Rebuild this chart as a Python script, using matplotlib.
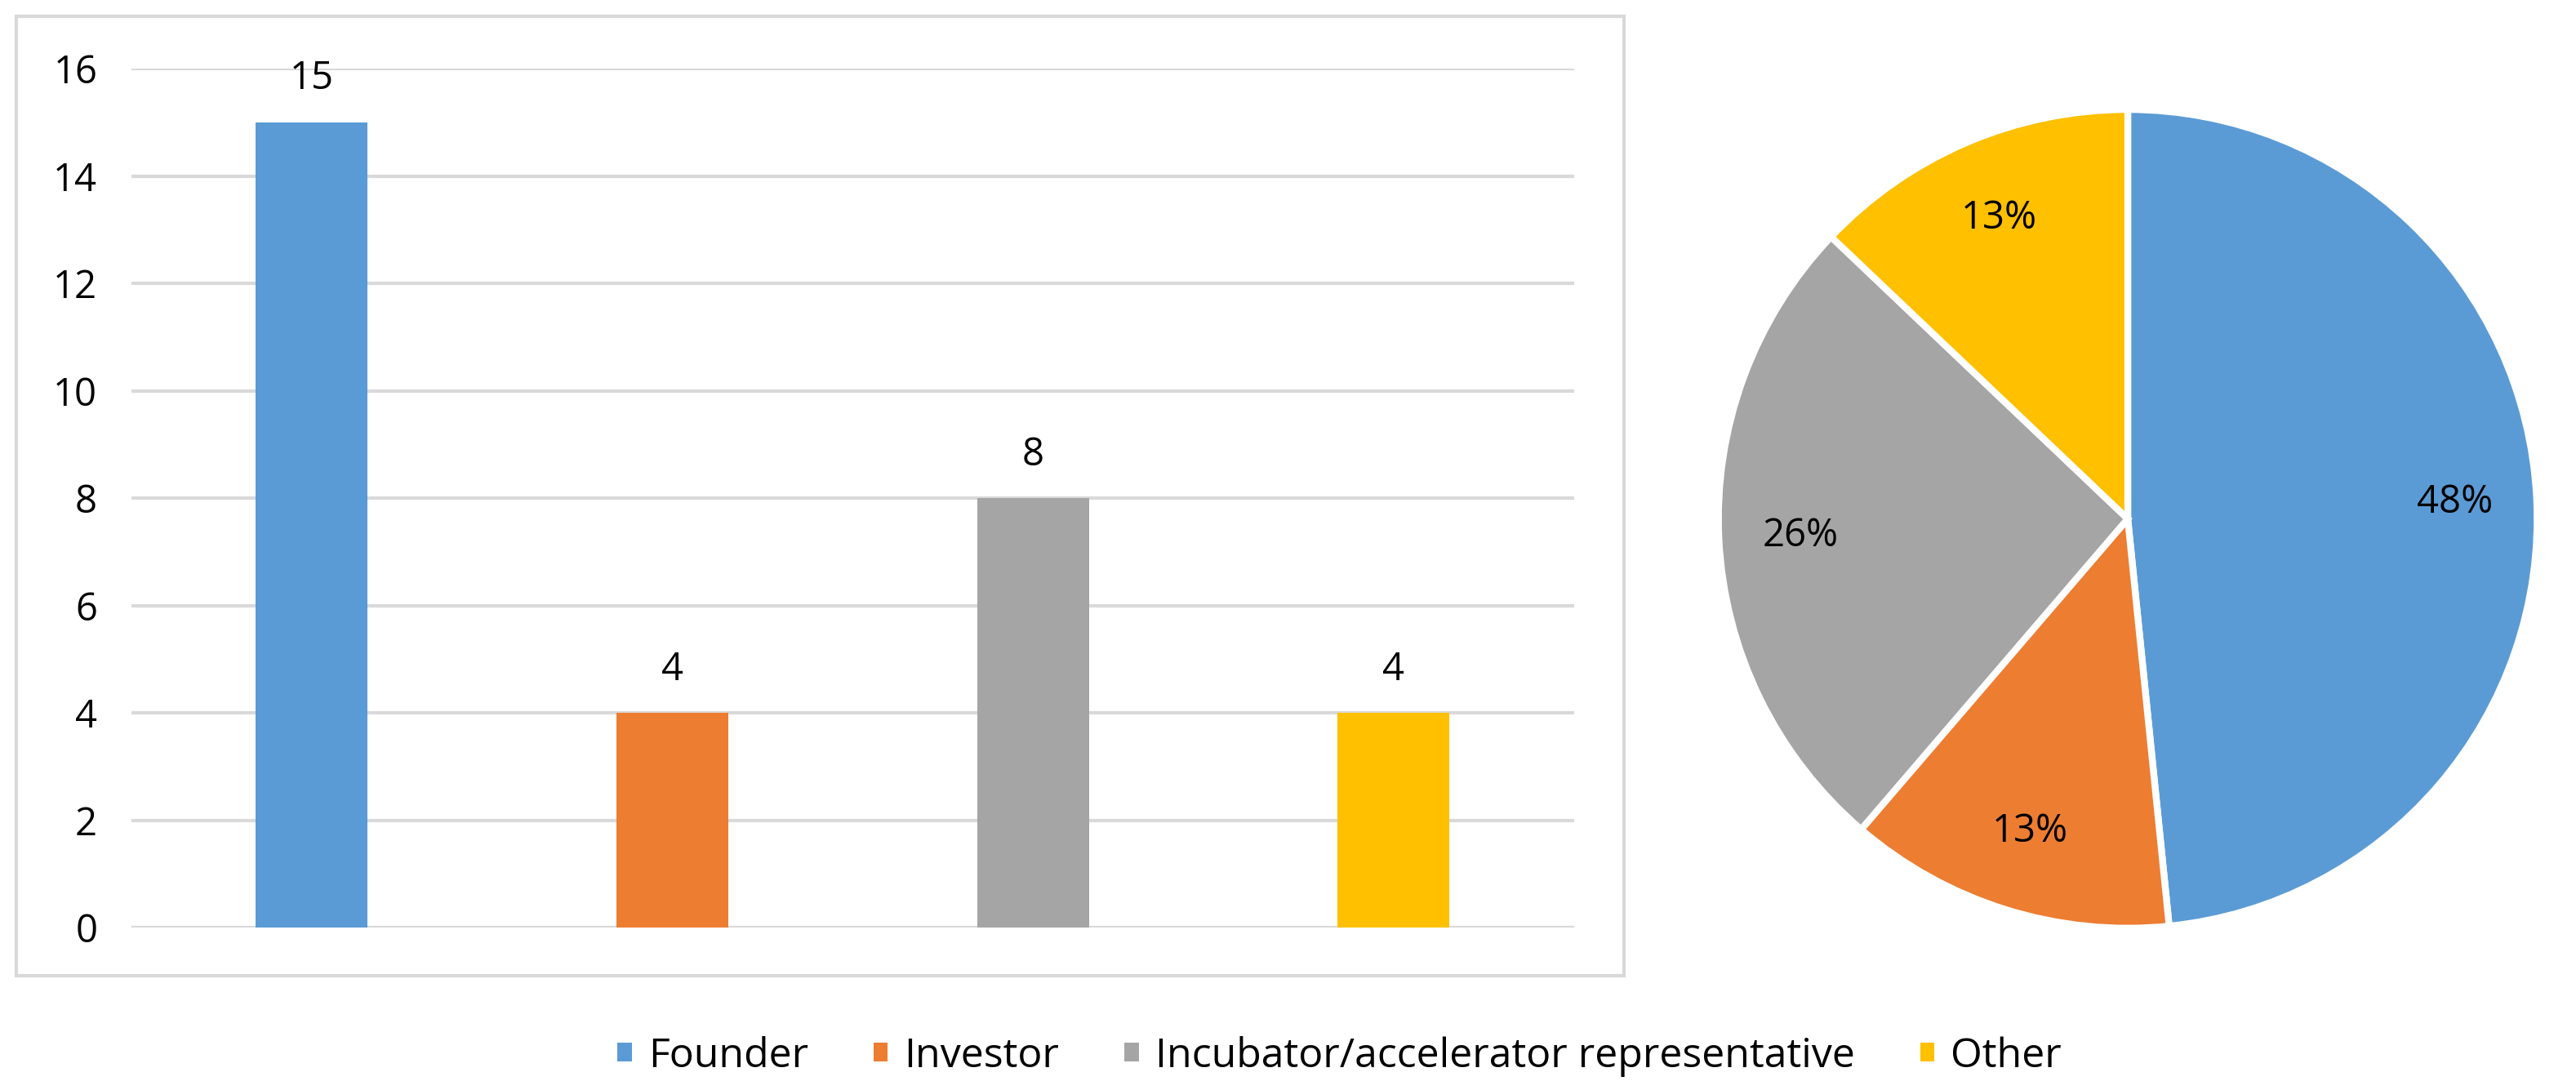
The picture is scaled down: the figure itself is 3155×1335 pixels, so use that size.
import matplotlib
matplotlib.use("Agg")
import matplotlib.pyplot as plt
from matplotlib.patches import Rectangle, Patch

categories = ["Founder", "Investor", "Incubator/accelerator representative", "Other"]
counts = [15, 4, 8, 4]
colors = ["#5b9bd5", "#ed7d31", "#a5a5a5", "#ffc000"]
yticks = [0, 2, 4, 6, 8, 10, 12, 14, 16]

plt.rcParams["font.family"] = ["Open Sans", "DejaVu Sans"]
fig = plt.figure(figsize=(31.55, 13.35), dpi=100)

# frame around the bar chart
fig.patches.append(Rectangle((0.0064, 0.105), 0.624, 0.88, transform=fig.transFigure,
                             facecolor="white", edgecolor="#d9d9d9", lw=3, zorder=0))

ax = fig.add_axes([0.051, 0.149, 0.56, 0.788])
ax.set_zorder(2)
x = range(1, len(counts) + 1)
ax.bar(x, counts, width=0.31, color=colors, zorder=3)
for xi, v in zip(x, counts):
    ax.text(xi, v + 0.45, str(v), ha="center", va="bottom", fontsize=34)
ax.set_xlim(0.5, 4.5)
ax.set_ylim(0, 16)
ax.set_yticks(yticks)
ax.tick_params(axis="y", labelsize=34, length=0, pad=30)
ax.set_xticks([])
ax.grid(axis="y", color="#d9d9d9", lw=3, zorder=0)
for s in ax.spines.values():
    s.set_visible(False)
ax.set_facecolor("none")

pax = fig.add_axes([0.826 - 0.1605, 0.524 - 0.3795, 0.321, 0.759])
wedges, texts, autotexts = pax.pie(
    counts, colors=colors, startangle=90, counterclock=False,
    autopct=lambda p: f"{p:.0f}%", pctdistance=0.8,
    wedgeprops=dict(edgecolor="white", linewidth=6),
    textprops=dict(fontsize=34))
pax.set_xlim(-1.01, 1.01)
pax.set_ylim(-1.01, 1.01)
pax.set_aspect("equal")

handles = [Patch(facecolor=c, label=l) for c, l in zip(colors, categories)]
fig.legend(handles=handles, loc="center", bbox_to_anchor=(0.52, 0.031), ncol=4,
           frameon=False, fontsize=36, handlelength=0.35, handleheight=0.35,
           columnspacing=1.6, handletextpad=0.4)

fig.savefig("out.png", dpi=100)
